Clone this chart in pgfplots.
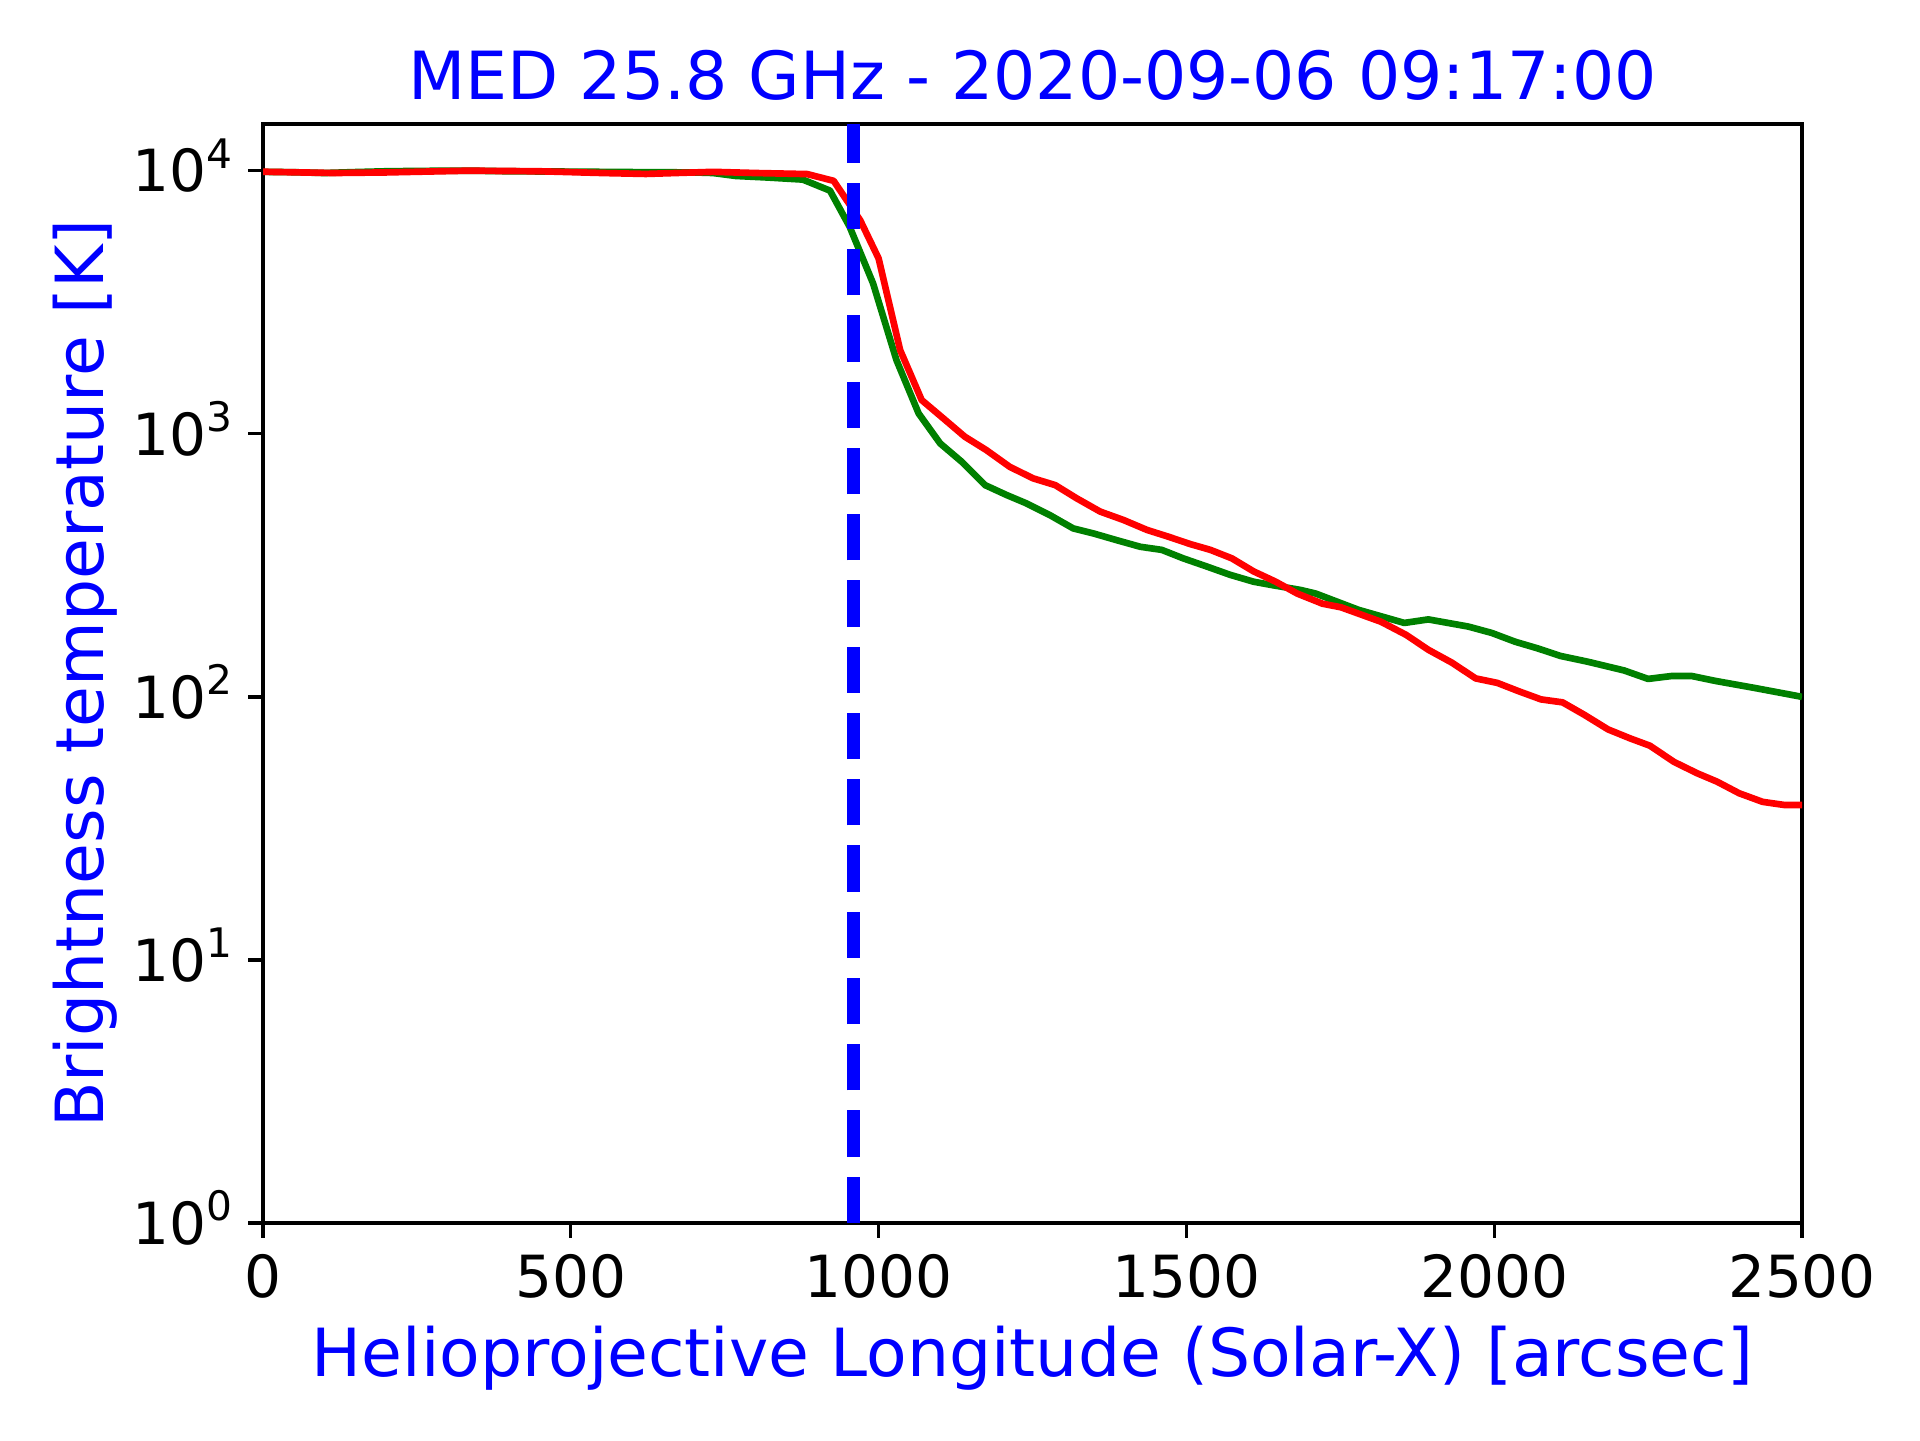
\documentclass[border=0pt]{standalone}
\usepackage{fontspec}
\setmainfont{DejaVu Sans}
\usepackage{pgfplots}
\pgfplotsset{compat=1.18}
\newcommand{\tsup}[1]{10\raisebox{5.6bp}{\fontsize{9.8}{10}\selectfont #1}}
\begin{document}
\begin{tikzpicture}
\path[use as bounding box] (0,0) rectangle (460.8bp,345.6bp);
\begin{axis}[
  name=ax,
  at={(63.12bp,52.08bp)}, anchor=south west,
  scale only axis, width=369.36bp, height=263.76bp,
  ymode=log, log basis y=10,
  xmin=0, xmax=2500, ymin=1, ymax=15050,
  axis line style={line width=0.8bp},
  tick pos=left, tick align=outside,
  major tick length=3.5bp, minor tick length=2bp,
  every tick/.style={black, line width=0.8bp},
  minor tick style={line width=0.6bp},
  xtick={0,500,1000,1500,2000,2500},
  xticklabels={0,500,1000,1500,2000,2500},
  ytick={1,10,100,1000,10000},
  yticklabels={\tsup{0},\tsup{1},\tsup{2},\tsup{3},\tsup{4}},
  xticklabel style={font=\fontsize{14}{16}\selectfont, anchor=base, inner sep=0pt, yshift=-14.3bp},
  yticklabel style={font=\fontsize{14}{16}\selectfont, anchor=base east, inner sep=0pt, yshift=-5.1bp, xshift=-3.7bp},
  clip=true,
]
\addplot[color={rgb,255:red,0;green,128;blue,0}, line width=1.6bp, line join=round] coordinates {
(0,9900) (50,9870) (100,9800) (150,9880) (200,9950) (250,9980) (300,10000) (350,9990) (400,9950) (500,9920) (600,9880) (700,9850) (731,9800) (768,9550) (820,9420) (877,9250) (921,8400) (953,6120) (991,3730) (1029,1906) (1065,1195) (1100,919) (1135,783) (1173,638) (1208,585) (1240,544) (1278,491) (1316,437) (1349,418) (1387,394) (1425,372) (1460,362) (1495,336) (1533,313) (1571,291) (1609,274) (1639,266) (1685,255) (1710,247) (1780,214) (1854,191) (1893,197) (1958,185) (1996,175) (2034,162) (2070,153) (2108,143) (2152,136) (2211,126) (2250,117) (2288,120) (2321,120) (2359,115) (2424,108) (2500,100)
};
\addplot[color={rgb,255:red,255;green,0;blue,0}, line width=1.6bp, line join=round] coordinates {
(0,9910) (115,9800) (200,9850) (333,10000) (450,9950) (551,9800) (622,9720) (731,9900) (800,9800) (884,9710) (927,9150) (970,6490) (1000,4640) (1035,2080) (1070,1343) (1105,1145) (1140,975) (1175,867) (1213,749) (1251,677) (1287,638) (1322,568) (1360,506) (1398,470) (1436,431) (1471,406) (1506,381) (1539,362) (1574,336) (1609,300) (1645,274) (1680,247) (1721,226) (1751,219) (1816,193) (1857,172) (1893,151) (1931,135) (1970,117.5) (2005,113) (2040,105) (2076,97.8) (2111,95.3) (2147,85.3) (2185,75.2) (2221,69.5) (2253,65.2) (2292,56.6) (2330,51.2) (2362,47.6) (2398,43.0) (2436,39.9) (2472,38.8) (2500,38.8)
};
\addplot[color={rgb,255:red,0;green,0;blue,255}, line width=3bp, dash pattern=on 11.1bp off 4.8bp] coordinates {(959,1) (959,15050)};
\end{axis}
\node[anchor=base, font=\fontsize{16}{19}\selectfont, text={rgb,255:red,0;green,0;blue,255}] at ([yshift=5.76bp]ax.north) {MED 25.8 GHz - 2020-09-06 09:17:00};
\node[anchor=base, font=\fontsize{16}{19}\selectfont, text={rgb,255:red,0;green,0;blue,255}] at ([yshift=-36.72bp]ax.south) {Helioprojective Longitude (Solar-X) [arcsec]};
\node[anchor=base, rotate=90, font=\fontsize{16}{19}\selectfont, text={rgb,255:red,0;green,0;blue,255}] at ([xshift=-38.4bp]ax.west) {Brightness temperature [K]};
\end{tikzpicture}
\end{document}
